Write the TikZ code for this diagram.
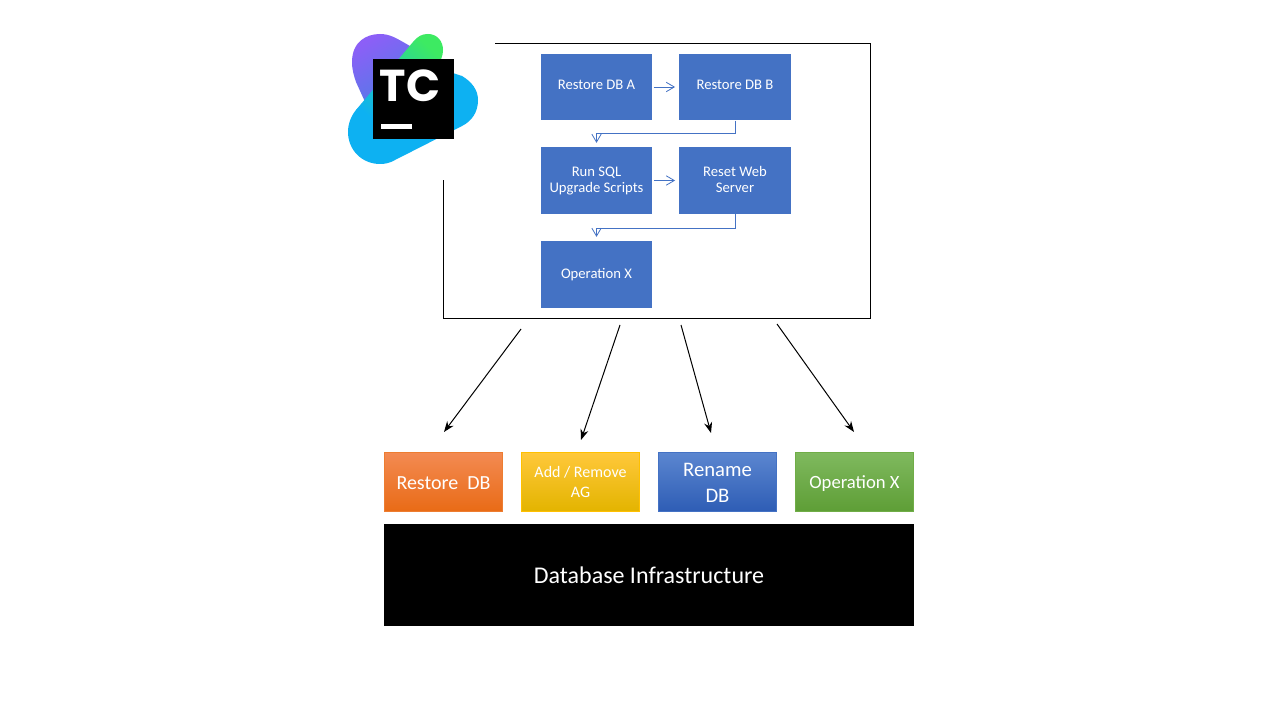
\documentclass[tikz,border=0pt]{standalone}
\usepackage{fontspec}
\setmainfont{Carlito}
\newfontfamily\logofont{Poppins}
\usepackage{xcolor}
\usetikzlibrary{arrows.meta,positioning}
\definecolor{stepblue}{HTML}{4472C4}
\definecolor{logoblue}{HTML}{0DB1F2}
\definecolor{logogreen}{HTML}{3DEA62}
\definecolor{logopurple}{HTML}{8C5FF7}
\definecolor{logoviolet}{HTML}{4F7CE6}
\tikzset{
    stepbox/.style={fill=stepblue,text=white,minimum width=83.5pt,minimum height=50pt,inner sep=0pt,align=center,text depth=1.5pt,font=\fontsize{11}{12}\selectfont},
    opbox/.style={draw,line width=0.75pt,text=white,minimum width=88.5pt,minimum height=44pt,inner sep=0pt,align=center,font=\fontsize{15.5}{19.5}\selectfont},
    flow/.style={draw=stepblue,line width=0.6pt,-{Straight Barb[length=6pt,width=7pt]}},
    call/.style={black,line width=0.75pt,-{Stealth[length=8pt,width=6pt]}},
}

\begin{document}
\begin{tikzpicture}[x=0.75pt,y=-0.75pt]
    \useasboundingbox (0,0) rectangle (1280,720);
    \fill[white] (0,0) rectangle (1280,720);

    \node[draw,line width=0.75pt,minimum width=320.5pt,minimum height=206.5pt,inner sep=0pt] (frame) at (657,181) {};

    % logo sits on its own white patch
    \fill[white] (340,25) rectangle (495,180);
    \shade[left color=logopurple,right color=logoviolet,shading angle=30]
        (352,62) .. controls (352,42) and (366,34) .. (380,34) .. controls (390,34) and (396,38) .. (410,46)
        -- (420,90) -- (366,104) -- (356,82) .. controls (354,76) and (352,70) .. (352,62) -- cycle;
    \fill[logoblue]
        (413,60) -- (462,76) .. controls (472,82) and (478,90) .. (478,100)
        .. controls (478,112) and (472,121) .. (462,126) -- (395,160) .. controls (390,163) and (385,164) .. (380,164)
        .. controls (362,164) and (348,150) .. (348,132) .. controls (348,124) and (351,116) .. (356,110) -- cycle;
    \shade[top color=logogreen,bottom color=logoblue,shading angle=-42]
        (413,42) .. controls (418,36) and (422,34) .. (428,34) .. controls (437,34) and (443,41) .. (443,50)
        .. controls (443,56) and (441,60) .. (437,66) -- (385,130) -- (356,110) -- cycle;
    \node[fill=black,minimum size=60.5pt,inner sep=0pt] (logo) at (413.5,99) {};
    \node[text=white,inner sep=0pt,font=\logofont\bfseries\fontsize{33.5}{33.5}\selectfont] (tc) at (410,86) {TC};
    \fill[white] (381,124) rectangle (411.5,129.5);

    \node[stepbox,text depth=3pt] (dba) at (596.5,87) {Restore DB A};
    \node[stepbox,text depth=3pt] (dbb) at (735,87) {Restore DB B};
    \node[stepbox] (sql) at (596.5,180.5) {Run SQL\\Upgrade Scripts};
    \node[stepbox] (web) at (735,180.5) {Reset Web\\Server};
    \node[stepbox] (opx) at (596.5,274.5) {Operation X};

    \draw[flow,shorten <=1pt,shorten >=3pt] (dba) -- (dbb);
    \draw[flow,shorten <=1pt,shorten >=3pt] (sql) -- (web);
    \draw[flow,shorten >=3pt] (dbb.south) -- ++(0,13) -| (sql.north);
    \draw[flow,shorten >=3pt] (web.south) -- ++(0,14) -| (opx.north);

    \node[opbox,draw={rgb,255:red,237;green,125;blue,49},top color={rgb,255:red,243;green,138;blue,82},middle color={rgb,255:red,242;green,117;blue,34},bottom color={rgb,255:red,233;green,107;blue,22},text height=11pt,font=\fontsize{15}{19}\selectfont] (restore) at (443.5,482) {Restore~ DB};
    \node[opbox,draw={rgb,255:red,255;green,192;blue,0},top color={rgb,255:red,255;green,200;blue,58},middle color={rgb,255:red,255;green,192;blue,0},bottom color={rgb,255:red,227;green,180;blue,0},font=\fontsize{12}{14.5}\selectfont] (ag) at (580.5,482) {Add / Remove\\AG};
    \node[opbox,draw=stepblue,top color={rgb,255:red,91;green,134;blue,208},bottom color={rgb,255:red,46;green,93;blue,181},text height=31pt] (rename) at (717.5,482) {Rename\\DB};
    \node[opbox,draw={rgb,255:red,112;green,173;blue,71},top color={rgb,255:red,127;green,185;blue,94},bottom color={rgb,255:red,94;green,158;blue,54},text depth=0pt,font=\fontsize{14}{18.5}\selectfont] (oper) at (854.5,482) {Operation X};
    \node[fill=black,text=white,minimum width=397.5pt,minimum height=76.5pt,inner sep=0pt,text height=13.5pt,font=\fontsize{18}{22}\selectfont] (infra) at (649,575) {Database Infrastructure};

    \coordinate (from1) at (521,329);
    \coordinate (from2) at (620,325);
    \coordinate (from3) at (681,325);
    \coordinate (from4) at (777,324);
    \coordinate (to1) at (444,432);
    \coordinate (to2) at (581,440);
    \coordinate (to3) at (711,433);
    \coordinate (to4) at (854,432);

    \draw[call] (from1) -- (to1);
    \draw[call] (from2) -- (to2);
    \draw[call] (from3) -- (to3);
    \draw[call] (from4) -- (to4);
\end{tikzpicture}
\end{document}
